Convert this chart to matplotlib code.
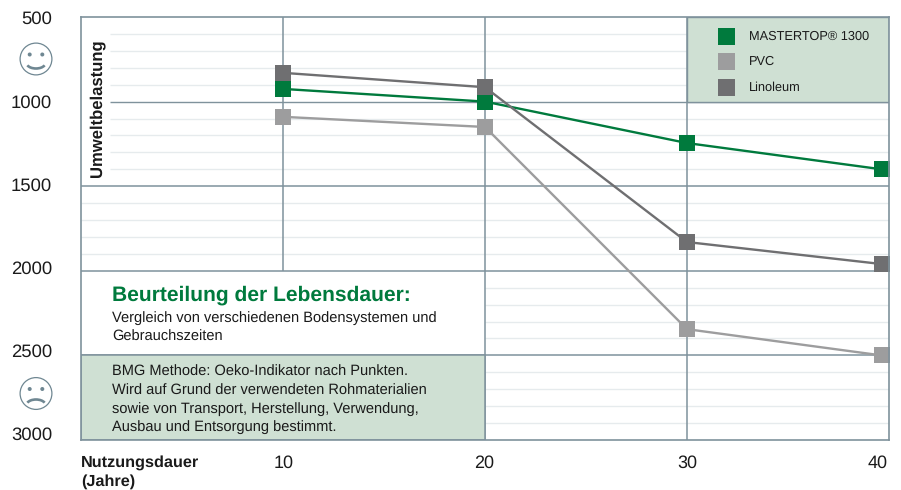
# coding=utf-8
import matplotlib
matplotlib.use("Agg")
import matplotlib.pyplot as plt
from matplotlib.patches import Arc, Circle, Rectangle

plt.rcParams['font.family'] = ['Liberation Sans', 'DejaVu Sans']
plt.rcParams['text.hinting'] = 'no_hinting'
plt.rcParams['text.hinting_factor'] = 8

# data
years = [10, 20, 30, 39.63]  # last marker sits just inside the frame
mastertop = [925, 1000, 1245, 1400]
pvc = [1090, 1150, 2345, 2500]
linoleum = [830, 915, 1830, 1960]

y_labels = ["500", "1000", "1500", "2000", "2500", "3000"]
y_label_px = [19.5, 103, 186.5, 269.5, 352.5, 435]
x_labels = ["10", "20", "30", "40"]
x_label_px = [284, 484, 687, 878]
legend_names = ["MASTERTOP® 1300", "PVC", "Linoleum"]

GREEN = "#007a3d"
GREY_LIGHT = "#9d9d9e"
GREY_DARK = "#6f6f71"
BOX = "#cfe0d3"
LINE = "#7f929c"
MINOR = "#e6ebed"
TEXT = "#1a1a1a"

W, H = 901, 490
fig = plt.figure(figsize=(W / 100, H / 100), dpi=100)
ax = fig.add_axes([81 / W, 1 - 440 / H, 808 / W, 423 / H])
ax.set_xlim(0, 40)
ax.set_ylim(3000, 500)
ax.set_xticks([])
ax.set_yticks([])
for s in ax.spines.values():
    s.set_color(LINE)
    s.set_linewidth(1.2)
    s.set_zorder(6)

# Light lines, they start at different places per band
for v in [600, 700, 800, 900, 1100, 1200, 1300, 1400]:
    ax.hlines(v, 1.44, 40, color=MINOR, lw=1, zorder=1)
for v in [1600, 1700, 1800, 1900]:
    ax.hlines(v, 0, 40, color=MINOR, lw=1, zorder=1)
for v in [2100, 2200, 2300, 2400, 2600, 2700, 2800, 2900]:
    ax.hlines(v, 20, 40, color=MINOR, lw=1, zorder=1)

# Main grid
ax.hlines(1000, 1.44, 40, color=LINE, lw=1, zorder=2)
for v in [1500, 2000, 2500]:
    ax.hlines(v, 0, 40, color=LINE, lw=1.1, zorder=2)
ax.vlines(10, 500, 2000, color=LINE, lw=1.1, zorder=2)
ax.vlines(20, 500, 3000, color=LINE, lw=1.1, zorder=2)
ax.vlines(30, 500, 3000, color=LINE, lw=1.1, zorder=2)

# Green boxes
ax.add_patch(Rectangle((30, 500), 10, 500, fc=BOX, ec=LINE, lw=1, zorder=3))
ax.add_patch(Rectangle((0, 2500), 20, 500, fc=BOX, ec=LINE, lw=1.1, zorder=3))

# Series
ax.plot(years, mastertop, color=GREEN, lw=1.7, marker="s", ms=11.5, mew=0, zorder=4, clip_on=False)
ax.plot(years, pvc, color=GREY_LIGHT, lw=1.7, marker="s", ms=11.5, mew=0, zorder=4, clip_on=False)
ax.plot(years, linoleum, color=GREY_DARK, lw=1.7, marker="s", ms=11.5, mew=0, zorder=4, clip_on=False)

# Overlay in pixels for the texts and the faces
ov = fig.add_axes([0, 0, 1, 1], facecolor="none")
ov.set_xlim(0, W)
ov.set_ylim(H, 0)
ov.axis("off")

for lab, py in zip(y_labels, y_label_px):
    ov.text(52, py, lab, ha="right", va="center", fontsize=13.3, color=TEXT)
for lab, px in zip(x_labels, x_label_px):
    ov.text(px, 463, lab, ha="center", va="center", fontsize=13, color=TEXT)

ov.text(81, 463, "Nutzungsdauer", ha="left", va="center", fontsize=11.7, fontweight="bold", color=TEXT)
ov.text(81, 482, "(Jahre)", ha="left", va="center", fontsize=11.7, fontweight="bold", color=TEXT)
ov.text(97, 108.5, "Umweltbelastung", rotation=90, ha="center", va="center", fontsize=12, fontweight="bold", color=TEXT)

# Legend
for name, col, py in zip(legend_names, [GREEN, GREY_LIGHT, GREY_DARK], [36.5, 62, 87.5]):
    ov.add_patch(Rectangle((718, py - 8.5), 17, 17, fc=col, ec="none"))
    ov.text(749, py, name, ha="left", va="center", fontsize=9.2, color=TEXT)

# Text blocks
ov.text(112, 295, "Beurteilung der Lebensdauer:", ha="left", va="center", fontsize=15.1, fontweight="bold", color=GREEN)
ov.text(112, 318, "Vergleich von verschiedenen Bodensystemen und", ha="left", va="center", fontsize=10.5, color=TEXT)
ov.text(112, 337, "Gebrauchszeiten", ha="left", va="center", fontsize=10.5, color=TEXT)
bmg_lines = ["BMG Methode: Oeko-Indikator nach Punkten.",
             "Wird auf Grund der verwendeten Rohmaterialien",
             "sowie von Transport, Herstellung, Verwendung,",
             "Ausbau und Entsorgung bestimmt."]
for line, py in zip(bmg_lines, [371.5, 390.5, 409, 427.5]):
    ov.text(112, py, line, ha="left", va="center", fontsize=10.5, color=TEXT)

# Faces
FACE = "#6f8792"
for cy, sad in [(59, False), (393.5, True)]:
    ov.add_patch(Circle((36, cy), 15.9, fc="none", ec=FACE, lw=0.9))
    ov.add_patch(Circle((29.7, cy - 4.5), 2, fc=FACE, ec="none"))
    ov.add_patch(Circle((42.3, cy - 4.5), 2, fc=FACE, ec="none"))
    if sad:
        # y axis is flipped in this overlay, so angles run clockwise on screen
        ov.add_patch(Arc((36, cy + 11.5), 19, 11, theta1=195, theta2=345, ec=FACE, lw=1.9))
    else:
        ov.add_patch(Arc((36, cy + 4), 19, 11, theta1=15, theta2=165, ec=FACE, lw=1.9))

fig.savefig("out.png", dpi=100, facecolor="white")
